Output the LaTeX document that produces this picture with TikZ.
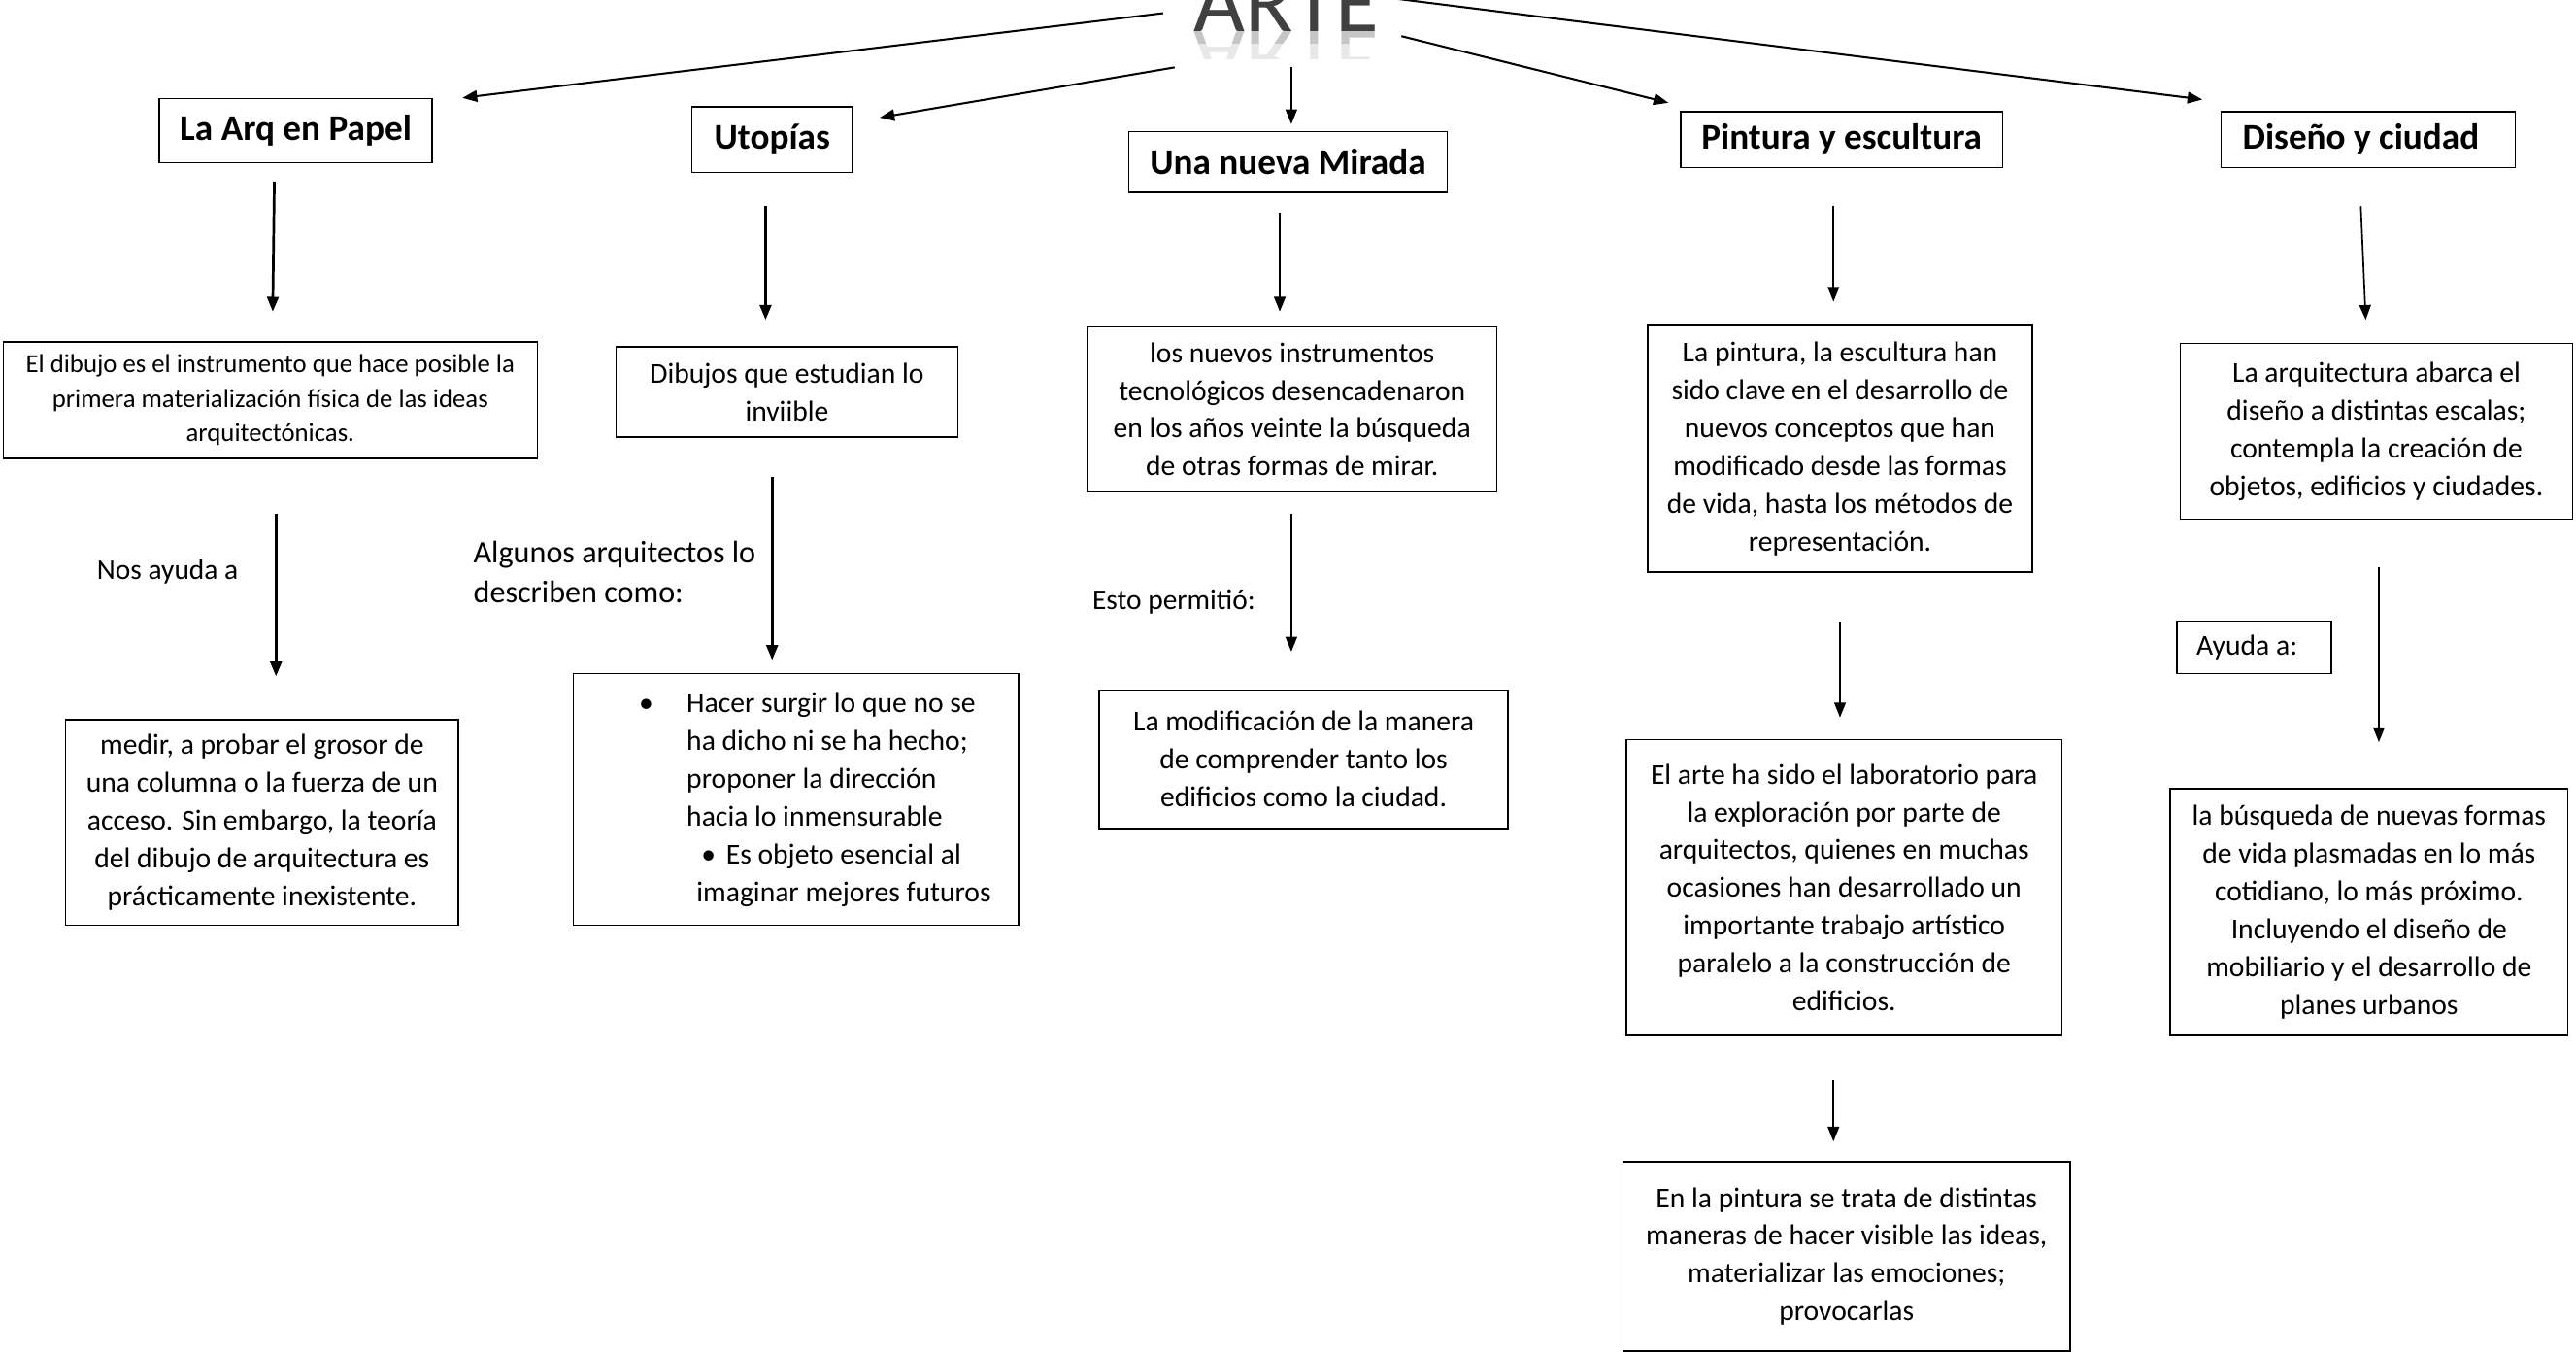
\documentclass[tikz,border=0pt]{standalone}
\usepackage{fontspec}
\setmainfont{Carlito}
\usetikzlibrary{arrows.meta}
\definecolor{artegray}{HTML}{404040}

\begin{document}
\begin{tikzpicture}[
    x=1pt, y=-1pt,
    caja/.style = {draw, line width=0.9pt, inner sep=0pt, align=center, font=\fontsize{17.5}{23}\selectfont},
    titulo/.style = {caja, font=\fontsize{22}{26}\selectfont\bfseries},
    etiqueta/.style = {inner sep=0pt, align=flush left, font=\fontsize{17.4}{23}\selectfont},
    flecha/.style = {-{Triangle[length=9pt,width=7pt]}, line width=1pt},
    flechagruesa/.style = {flecha, line width=1.6pt}
  ]
  \useasboundingbox (0,0) rectangle (1568,824);
  \clip (0,0) rectangle (1568,824);

  % Title.
  \node[anchor=base, inner sep=0pt, font=\fontsize{54}{54}\selectfont, text=artegray] (arte) at (783,19) {ARTE};
  \begin{scope}
    \clip (700,19) rectangle (870,27);
    \begin{scope}[shift={(783,19)}, yscale=-1]
      \node[transform shape, anchor=base, inner sep=0pt, font=\fontsize{54}{54}\selectfont, text=gray!45] (reflejoa) at (0,0) {ARTE};
    \end{scope}
  \end{scope}
  \begin{scope}
    \clip (700,27) rectangle (870,36);
    \begin{scope}[shift={(783,19)}, yscale=-1]
      \node[transform shape, anchor=base, inner sep=0pt, font=\fontsize{54}{54}\selectfont, text=gray!18] (reflejob) at (0,0) {ARTE};
    \end{scope}
  \end{scope}

  % Column 1.
  \node[titulo, minimum width=166pt, minimum height=39pt] (papel) at (180,79.5) {La Arq en Papel};
  \node[caja, font=\fontsize{15.8}{21}\selectfont, minimum width=325pt, minimum height=71pt] (dibujo) at (164.5,243.5) {El dibujo es el instrumento que hace posible la\\primera materialización física de las ideas\\arquitectónicas.};
  \node[etiqueta] (nosayuda) at (102,348) {Nos ayuda a};
  \node[caja, minimum width=239pt, minimum height=125pt] (medir) at (159.5,500.5) {medir, a probar el grosor de\\una columna o la fuerza de un\\acceso. Sin embargo, la teoría\\del dibujo de arquitectura es\\prácticamente inexistente.};

  % Column 2.
  \node[titulo, minimum width=98pt, minimum height=40pt] (utopias) at (470,85) {Utopías};
  \node[caja, minimum width=208pt, minimum height=55pt] (inviible) at (479,238.5) {Dibujos que estudian lo\\inviible};
  \node[etiqueta, anchor=west, font=\fontsize{19}{24}\selectfont] (algunos) at (288,348) {Algunos arquitectos lo\\describen como:};
  \node[caja, minimum height=153pt, text width=271pt, align=flush left] (hacer) at (484.5,486.5) {\hspace*{40pt}\makebox[29pt][l]{\textbullet}Hacer surgir lo que no se\\\hspace*{69pt}ha dicho ni se ha hecho;\\\hspace*{69pt}proponer la dirección\\\hspace*{69pt}hacia lo inmensurable\\\hspace*{78pt}\makebox[15pt][l]{\textbullet}Es objeto esencial al\\\hspace*{75pt}imaginar mejores futuros};

  % Column 3.
  \node[titulo, minimum width=194pt, minimum height=37pt] (mirada) at (784,98.5) {Una nueva Mirada};
  \node[caja, minimum width=249pt, minimum height=100pt] (instrumentos) at (786.5,249) {los nuevos instrumentos\\tecnológicos desencadenaron\\en los años veinte la búsqueda\\de otras formas de mirar.};
  \node[etiqueta] (permitio) at (714.5,366) {Esto permitió:};
  \node[caja, minimum width=249pt, minimum height=84pt] (modificacion) at (793.5,462) {La modificación de la manera\\de comprender tanto los\\edificios como la ciudad.};

  % Column 4.
  \node[titulo, minimum width=196pt, minimum height=34pt] (pintura) at (1121,85) {Pintura y escultura};
  \node[caja, minimum width=234pt, minimum height=150pt] (clave) at (1120,273) {La pintura, la escultura han\\sido clave en el desarrollo de\\nuevos conceptos que han\\modificado desde las formas\\de vida, hasta los métodos de\\representación.};
  \node[caja, minimum width=265pt, minimum height=180pt] (laboratorio) at (1122.5,540) {El arte ha sido el laboratorio para\\la exploración por parte de\\arquitectos, quienes en muchas\\ocasiones han desarrollado un\\importante trabajo artístico\\paralelo a la construcción de\\edificios.};
  \node[caja, minimum width=272pt, minimum height=115pt] (maneras) at (1124,764.5) {En la pintura se trata de distintas\\maneras de hacer visible las ideas,\\materializar las emociones;\\provocarlas};

  % Column 5.
  \node[titulo, minimum height=34pt, text width=179pt, align=flush left] (diseno) at (1441.5,85) {\hspace*{13pt}Diseño y ciudad};
  \node[caja, minimum width=239pt, minimum height=107pt] (escalas) at (1446.5,262.5) {La arquitectura abarca el\\diseño a distintas escalas;\\contempla la creación de\\objetos, edificios y ciudades.};
  \node[caja, minimum height=32pt, text width=94pt, align=flush left] (ayuda) at (1372,394) {\hspace*{12pt}Ayuda a:};
  \node[caja, minimum width=242pt, minimum height=150pt] (busqueda) at (1442,555) {la búsqueda de nuevas formas\\de vida plasmadas en lo más\\cotidiano, lo más próximo.\\Incluyendo el diseño de\\mobiliario y el desarrollo de\\planes urbanos};

  % From the title.
  \draw[flecha, line width=1.2pt] ([xshift=-75pt,yshift=11pt]arte.base) -- ([xshift=18pt]papel.north east);
  \draw[flecha, line width=1.2pt] ([xshift=-68pt,yshift=-22pt]arte.base) -- ([xshift=16pt,yshift=-7pt]utopias.north east);
  \draw[flecha] ([xshift=3pt,yshift=-22pt]arte.base) -- ([xshift=2pt,yshift=4pt]mirada.north);
  \draw[flecha, line width=1.2pt] ([xshift=70pt,yshift=-3pt]arte.base) -- ([xshift=-7pt,yshift=5pt]pintura.north west);
  \draw[flecha, line width=1.2pt] ([xshift=65pt,yshift=20pt]arte.base) -- ([xshift=-11pt,yshift=7pt]diseno.north west);

  % Down the columns.
  \draw[flechagruesa] ([xshift=-13pt,yshift=-11pt]papel.south) -- ([xshift=1.5pt,yshift=18pt]dibujo.north);
  \draw[flechagruesa] ([xshift=3.5pt,yshift=-33pt]dibujo.south) -- ([xshift=8.5pt,yshift=26pt]medir.north);
  \draw[flechagruesa] ([xshift=-4pt,yshift=-20pt]utopias.south) -- ([xshift=-13pt,yshift=16pt]inviible.north);
  \draw[flechagruesa] ([xshift=-9pt,yshift=-24pt]inviible.south) -- ([xshift=-14.5pt,yshift=8pt]hacer.north);
  \draw[flecha] ([xshift=-5pt,yshift=-12pt]mirada.south) -- ([xshift=-7.5pt,yshift=9pt]instrumentos.north);
  \draw[flecha] ([xshift=-0.5pt,yshift=-13pt]instrumentos.south) -- ([xshift=-7.5pt,yshift=23pt]modificacion.north);
  \draw[flecha] ([xshift=-5pt,yshift=-23pt]pintura.south) -- ([xshift=-4pt,yshift=14pt]clave.north);
  \draw[flecha] ([yshift=-30pt]clave.south) -- ([xshift=-2.5pt,yshift=13pt]laboratorio.north);
  \draw[flecha] ([xshift=-6.5pt,yshift=-27pt]laboratorio.south) -- ([xshift=-8pt,yshift=12pt]maneras.north);
  \draw[flecha] ([xshift=-4.5pt,yshift=-23pt]diseno.south) -- ([xshift=-6.5pt,yshift=14pt]escalas.north);
  \draw[flecha] ([xshift=1.5pt,yshift=-29pt]escalas.south) -- ([xshift=6pt,yshift=28pt]busqueda.north);
\end{tikzpicture}
\end{document}
